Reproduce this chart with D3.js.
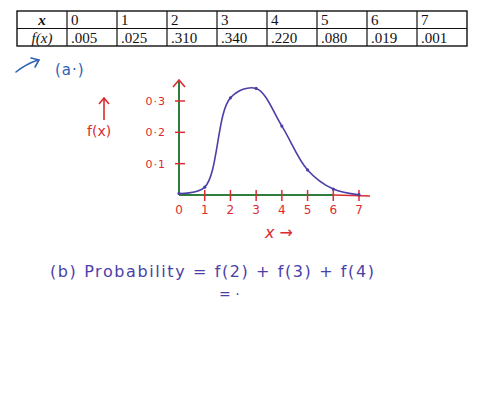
<!DOCTYPE html>
<html>
<head>
<meta charset="utf-8">
<script src="https://cdn.jsdelivr.net/npm/d3@7"></script>
<style>
  body { margin: 0; background: #fff; }
  svg { display: block; }
  .cell { font-family: "Liberation Serif", serif; font-size: 15px; fill: #111; }
  .hand { font-family: "DejaVu Sans", sans-serif; }
</style>
</head>
<body>
<svg width="480" height="418"></svg>
<script>
// table data
var xs = [0, 1, 2, 3, 4, 5, 6, 7];
var fx = [0.005, 0.025, 0.310, 0.340, 0.220, 0.080, 0.019, 0.001];
// axis labels
var yTicks = [0.1, 0.2, 0.3];
var xTicks = [0, 1, 2, 3, 4, 5, 6, 7];

var red = "#dc2a30", green = "#2f7d3c", purple = "#4b3fa8", blue = "#2f62b5";

var svg = d3.select("svg");
svg.append("rect").attr("width", 480).attr("height", 418).attr("fill", "#fff");

// ---- table ----
var colW = 50, tx = 17, ty = 11, rowH = 17.5;
var fmt = function(v) { return d3.format(".3f")(v).replace(/^0/, ""); };
var table = svg.append("g");
var cols = d3.range(xs.length + 1);

table.append("rect")
    .attr("x", tx).attr("y", ty)
    .attr("width", colW * cols.length).attr("height", rowH * 2)
    .attr("fill", "none").attr("stroke", "#111").attr("stroke-width", 1.4);
table.append("line")
    .attr("x1", tx).attr("x2", tx + colW * cols.length)
    .attr("y1", ty + rowH).attr("y2", ty + rowH)
    .attr("stroke", "#111").attr("stroke-width", 1.2);
table.selectAll("line.col")
    .data(cols.slice(1))
    .enter().append("line")
    .attr("class", "col")
    .attr("x1", function(d) { return tx + d * colW; })
    .attr("x2", function(d) { return tx + d * colW; })
    .attr("y1", ty).attr("y2", ty + rowH * 2)
    .attr("stroke", "#111").attr("stroke-width", 1.2);

table.append("text").attr("class", "cell")
    .attr("x", tx + colW / 2).attr("y", ty + 14)
    .attr("text-anchor", "middle").style("font-style", "italic").style("font-weight", "bold")
    .text("x");
table.append("text").attr("class", "cell")
    .attr("x", tx + colW / 2).attr("y", ty + rowH + 14)
    .attr("text-anchor", "middle").style("font-style", "italic")
    .text("f(x)");

table.selectAll("text.xv")
    .data(xs)
    .enter().append("text")
    .attr("class", "cell xv")
    .attr("x", function(d, i) { return tx + (i + 1) * colW + 4; })
    .attr("y", ty + 14)
    .text(function(d) { return d; });
table.selectAll("text.fv")
    .data(fx)
    .enter().append("text")
    .attr("class", "cell fv")
    .attr("x", function(d, i) { return tx + (i + 1) * colW + 4; })
    .attr("y", ty + rowH + 14)
    .text(fmt);

// ---- (a.) ----
svg.append("path")
    .attr("d", "M16,72 Q26,64 38,60 M31,58 L39,60 L35,67")
    .attr("fill", "none").attr("stroke", blue).attr("stroke-width", 1.6)
    .attr("stroke-linecap", "round");
svg.append("text").attr("class", "hand")
    .attr("x", 55).attr("y", 75)
    .attr("fill", blue).style("font-size", "15px").style("letter-spacing", "1px")
    .text("(a·)");

// ---- chart ----
var x = d3.scaleLinear().domain([0, 7]).range([179, 359]);
var y = d3.scaleLinear().domain([0, 0.3]).range([195, 101]);

var g = svg.append("g");

// y axis (green) with arrow
g.append("line")
    .attr("x1", x(0)).attr("x2", x(0))
    .attr("y1", y(0)).attr("y2", 80)
    .attr("stroke", green).attr("stroke-width", 2);
g.append("path")
    .attr("d", "M" + (x(0) - 6) + ",87 L" + x(0) + ",80 L" + (x(0) + 6) + ",87")
    .attr("fill", "none").attr("stroke", red).attr("stroke-width", 1.6);

// x axis: green up to 6, red beyond
g.append("line")
    .attr("x1", x(0)).attr("x2", x(6))
    .attr("y1", y(0)).attr("y2", y(0))
    .attr("stroke", green).attr("stroke-width", 2);
g.append("line")
    .attr("x1", x(6)).attr("x2", x(7) + 11)
    .attr("y1", y(0)).attr("y2", y(0) + 1)
    .attr("stroke", red).attr("stroke-width", 1.5);

// y ticks
g.selectAll("line.yt")
    .data(yTicks)
    .enter().append("line")
    .attr("class", "yt")
    .attr("x1", x(0) - 4).attr("x2", x(0) + 6)
    .attr("y1", y).attr("y2", y)
    .attr("stroke", red).attr("stroke-width", 1.5);
g.selectAll("text.yl")
    .data(yTicks)
    .enter().append("text")
    .attr("class", "hand yl")
    .attr("x", x(0) - 13)
    .attr("y", function(d) { return y(d) + 4; })
    .attr("text-anchor", "end")
    .attr("fill", red).style("font-size", "11px").style("letter-spacing", "1px")
    .text(function(d) { return d3.format(".1f")(d).replace(".", "·"); });

// x ticks
g.selectAll("line.xt")
    .data(xTicks.slice(1))
    .enter().append("line")
    .attr("class", "xt")
    .attr("x1", x).attr("x2", x)
    .attr("y1", y(0) - 5).attr("y2", y(0) + 6)
    .attr("stroke", red).attr("stroke-width", 1.5);
g.selectAll("text.xl")
    .data(xTicks)
    .enter().append("text")
    .attr("class", "hand xl")
    .attr("x", x)
    .attr("y", y(0) + 19)
    .attr("text-anchor", "middle")
    .attr("fill", red).style("font-size", "12px")
    .text(function(d) { return d; });

// axis titles
g.append("path")
    .attr("d", "M104,120 L104,99 M99,104 L104,98 L109,104")
    .attr("fill", "none").attr("stroke", red).attr("stroke-width", 1.6);
g.append("text").attr("class", "hand")
    .attr("x", 87).attr("y", 136)
    .attr("fill", red).style("font-size", "14px")
    .text("f(x)");
g.append("text").attr("class", "hand")
    .attr("x", 265).attr("y", 238)
    .attr("fill", red).style("font-size", "16px").style("font-style", "italic")
    .text("x →");

// the sketched curve
var line = d3.line()
    .x(function(d, i) { return x(xs[i]); })
    .y(function(d) { return y(d); })
    .curve(d3.curveCatmullRom.alpha(0.5));
g.append("path")
    .datum(fx)
    .attr("d", line)
    .attr("fill", "none").attr("stroke", purple).attr("stroke-width", 1.6)
    .attr("stroke-linejoin", "round");
g.selectAll("circle.pt")
    .data(fx)
    .enter().append("circle")
    .attr("class", "pt")
    .attr("cx", function(d, i) { return x(xs[i]); })
    .attr("cy", y)
    .attr("r", 1.6)
    .attr("fill", purple);

// ---- (b) ----
svg.append("text").attr("class", "hand")
    .attr("x", 50).attr("y", 277)
    .attr("fill", purple).style("font-size", "16px").style("letter-spacing", "1.6px")
    .text("(b)  Probability = f(2) + f(3) + f(4)");
svg.append("text").attr("class", "hand")
    .attr("x", 219).attr("y", 299)
    .attr("fill", purple).style("font-size", "14px")
    .text("=  ·");
</script>
</body>
</html>
